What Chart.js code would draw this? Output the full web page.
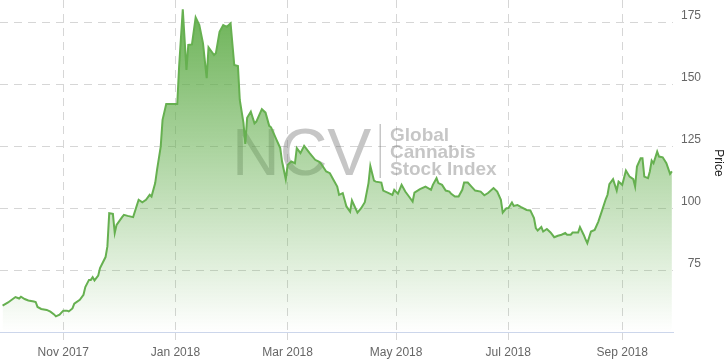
<!DOCTYPE html>
<html>
<head>
<meta charset="utf-8">
<script src="https://cdn.jsdelivr.net/npm/chart.js@4.4.1/dist/chart.umd.min.js"></script>
<style>
  html, body { margin: 0; padding: 0; background: #fff; }
  #wrap { width: 728px; height: 364px; position: relative; }
</style>
</head>
<body>
<div id="wrap"><canvas id="priceChart"></canvas></div>
<script>
// days counted from 1 Nov 2017
const days = [
  -33, -30, -26, -24, -23, -21, -19, -16, -15, -14, -12, -9, -7, -5, -4, -2,
  0, 2, 3, 5, 6, 9, 11, 12, 14, 15, 16, 17, 19, 20, 23, 24, 25, 27, 28, 29,
  32, 33, 35, 38, 41, 43, 45, 47, 48, 50, 51, 53, 54, 56, 62, 63, 65, 67, 68,
  70, 72, 74, 76, 78, 79, 82, 83, 85, 87, 89, 91, 93, 95, 96, 98, 99, 100,
  102, 104, 105, 108, 110, 112, 113, 116, 118, 119, 121, 122, 124, 126, 127,
  129, 131, 134, 137, 139, 140, 143, 145, 147, 149, 150, 152, 154, 156, 157,
  160, 162, 164, 166, 167, 169, 170, 173, 174, 177, 179, 180, 182, 184, 186,
  188, 190, 191, 194, 197, 200, 201, 203, 204, 206, 208, 210, 211, 213, 215,
  217, 218, 220, 222, 224, 227, 229, 231, 234, 236, 238, 239, 241, 242, 244,
  245, 247, 249, 252, 254, 256, 257, 258, 260, 261, 263, 265, 267, 269, 271,
  273, 274, 276, 277, 280, 281, 283, 284, 285, 287, 289, 291, 293, 295, 296,
  297, 299, 301, 302, 304, 306, 308, 310, 311, 312, 314, 315, 316, 318, 319,
  320, 321, 323, 324, 326, 328, 330, 331
];
const prices = [
  60.8, 62.1, 64.3, 63.7, 64.4, 63.5, 62.9, 62.5, 62.3, 60.3, 59.5, 59.1, 58.4, 57.3, 56.5, 57.2,
  58.8, 58.8, 58.5, 59.7, 61.6, 63.2, 65.2, 68.3, 71.2, 71.2, 72.3, 71.0, 72.9, 76.0, 80.4, 84.7, 98.1, 97.8, 90.1, 93.4,
  96.5, 97.4, 97.0, 96.5, 103.5, 102.5, 103.5, 105.5, 104.8, 110.2, 115.5, 124.9, 135.7, 142.1, 142.1, 157.1, 180.2, 155.8, 165.9,
  166.1, 177.0, 173.9, 166.5, 152.5, 164.9, 161.8, 162.5, 171.2, 173.9, 173.2, 174.6, 157.8, 157.4, 143.7, 134.5, 126.0, 136.5,
  139.0, 134.3, 135.0, 140.0, 138.6, 133.3, 132.7, 127.6, 124.3, 118.9, 111.8, 117.5, 118.9, 118.2, 124.3,
  122.3, 125.2, 122.3, 119.6, 118.9, 118.2, 114.9, 114.2, 111.5, 108.8, 105.5, 106.2, 100.8, 98.7, 103.2,
  98.3, 100.1, 102.5, 110.2, 117.1, 111.2, 110.8, 110.4, 107.2, 106.2, 105.5, 107.5, 105.9, 109.5, 106.8,
  104.8, 102.8, 106.4, 107.8, 108.8, 107.5, 109.5, 112.2, 110.2, 109.5, 107.2, 106.8, 105.9, 104.8, 104.8,
  107.5, 110.4, 110.4, 108.8, 107.2, 106.8, 105.3, 106.2, 108.2, 106.8, 103.5, 98.3, 100.1, 100.1, 102.4,
  101.0, 101.4, 100.5, 99.4, 99.2, 96.1, 92.1, 91.1, 92.5, 90.7, 91.7, 90.3, 88.4, 89.0, 89.4,
  90.1, 89.4, 89.4, 90.3, 90.3, 92.5, 89.4, 87.6, 86.0, 90.7, 91.3, 94.7, 99.1, 103.7, 105.5,
  109.8, 111.8, 107.2, 110.8, 109.5, 115.3, 112.8, 111.8, 108.8, 116.9, 120.2, 120.2, 112.8, 112.2, 114.9,
  119.3, 118.2, 122.9, 120.9, 120.6, 118.2, 113.9, 114.9
];
const tickDays = [0, 61, 122, 181, 242, 304];
const tickLabels = ['Nov 2017', 'Jan 2018', 'Mar 2018', 'May 2018', 'Jul 2018', 'Sep 2018'];
const priceTicks = [75, 100, 125, 150, 175];

const FONT = '"Liberation Sans", Arial, sans-serif';
const gridColor = '#d6d6d6';

// NCV logo drawn behind the series
const watermark = {
  id: 'watermark',
  beforeDatasetsDraw(chart) {
    const ctx = chart.ctx;
    const a = chart.chartArea;
    ctx.save();
    ctx.fillStyle = 'rgba(105,105,105,0.38)';
    ctx.font = '66px ' + FONT;
    ctx.fillText('NCV', a.left + 232, a.top + 175);
    ctx.fillRect(a.left + 379.5, a.top + 124, 1.5, 54);
    ctx.font = 'bold 19px ' + FONT;
    ctx.fillText('Global', a.left + 390, a.top + 141);
    ctx.fillText('Cannabis', a.left + 390, a.top + 158);
    ctx.fillText('Stock Index', a.left + 390, a.top + 175);
    ctx.restore();
  }
};

// axis title on the far right, reading top to bottom
const priceTitle = {
  id: 'priceTitle',
  afterDraw(chart) {
    const ctx = chart.ctx;
    const a = chart.chartArea;
    ctx.save();
    ctx.translate(chart.width - 10, (a.top + a.bottom) / 2 - 3);
    ctx.rotate(Math.PI / 2);
    ctx.fillStyle = '#222';
    ctx.font = '12px ' + FONT;
    ctx.textAlign = 'center';
    ctx.textBaseline = 'middle';
    ctx.fillText('Price', 0, 0);
    ctx.restore();
  }
};

const ctx = document.getElementById('priceChart').getContext('2d');
new Chart(ctx, {
  type: 'line',
  data: {
    datasets: [{
      data: days.map((d, i) => ({ x: d, y: prices[i] })),
      borderColor: '#66b050',
      borderWidth: 2,
      pointRadius: 0,
      tension: 0,
      fill: 'start',
      backgroundColor: (c) => {
        const area = c.chart.chartArea;
        if (!area) return 'rgba(102,176,80,0.4)';
        const g = c.chart.ctx.createLinearGradient(0, area.top, 0, area.bottom);
        g.addColorStop(0, 'rgba(95,172,72,0.95)');
        g.addColorStop(1, 'rgba(95,172,72,0)');
        return g;
      }
    }]
  },
  options: {
    responsive: true,
    maintainAspectRatio: false,
    animation: false,
    layout: { padding: { left: 0, top: 0, bottom: 0, right: 27 } },
    plugins: { legend: { display: false }, tooltip: { enabled: false } },
    scales: {
      x: {
        type: 'linear',
        min: -34.4,
        max: 331.6,
        afterBuildTicks: (s) => { s.ticks = tickDays.map(v => ({ value: v })); },
        afterFit: (s) => { s.height = 32; s.paddingLeft = 0; s.paddingRight = 0; },
        ticks: {
          autoSkip: false,
          maxRotation: 0,
          padding: 5,
          color: '#666',
          font: { family: FONT, size: 12 }
        ,
          callback: (v) => tickLabels[tickDays.indexOf(v)] || ''
        },
        grid: { color: gridColor, tickColor: gridColor, tickLength: 8 },
        border: { display: true, color: '#ccd6eb', width: 1, dash: [8, 6] }
      },
      y: {
        position: 'right',
        min: 50.2,
        max: 184,
        afterBuildTicks: (s) => { s.ticks = priceTicks.map(v => ({ value: v })); },
        afterFit: (s) => { s.width = 28; s.paddingTop = 0; s.paddingBottom = 0; },
        ticks: {
          crossAlign: 'far',
          padding: 8,
          labelOffset: -7,
          color: '#666',
          font: { family: FONT, size: 12 }
        },
        grid: { color: gridColor, drawTicks: false },
        border: { display: false, dash: [8, 6] }
      }
    }
  },
  plugins: [watermark, priceTitle]
});
</script>
</body>
</html>
